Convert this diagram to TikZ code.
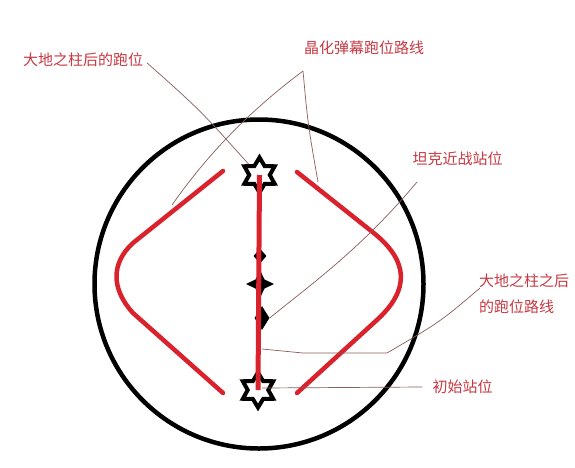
\documentclass[tikz,border=0pt]{standalone}
\usepackage{fontspec}
\usepackage{tikz}
\usetikzlibrary{shapes.geometric}
\newfontfamily\cjk{Noto Sans CJK SC}
\definecolor{route_red}{RGB}{218,34,44}
\definecolor{label_red}{RGB}{198,56,66}
\definecolor{pointer_gray}{RGB}{138,92,92}
\tikzset{
    arena/.style={draw=black,line width=4.5pt},
    route/.style={draw=route_red,line width=4.5pt,line cap=round,line join=round},
    hexstar/.style={star,star points=6,star point ratio=1.7,minimum size=35pt,inner sep=0pt,draw=black,line width=4pt,fill=white},
    tinymark/.style={fill=black,inner sep=0pt},
    pointer_line/.style={draw=pointer_gray,line width=0.7pt},
    note/.style={text=label_red,font=\cjk\fontsize{15}{26}\selectfont,inner sep=0pt},
}

\begin{document}
\begin{tikzpicture}[x=1pt,y=-1pt]
  \useasboundingbox (0,0) rectangle (575,467);
  % Draw arena
  \node[circle,arena,minimum size=329pt,inner sep=0pt] (arena) at (259,284) {};
  % Draw running routes around the pillar
  \draw[route] (223,171) -- (133,243) .. controls (111,263) and (111,289) .. (133,313) -- (223,393);
  \draw[route] (297,172) -- (375,234) .. controls (409,262) and (409,290) .. (378,319) -- (297,393);
  % Draw stand positions
  \node[hexstar] (starTop) at (259.5,175) {};
  \node[hexstar] (starBottom) at (258,390) {};
  \node[tinymark,diamond,minimum width=13pt,minimum height=15pt] (markA) at (260,256) {};
  \node[tinymark,star,star points=4,star point ratio=2.2,minimum size=28pt] (markB) at (260,284) {};
  \node[tinymark,diamond,minimum width=15pt,minimum height=24pt] (markC) at (262,318) {};
  \draw[route_red,line width=5pt] (starTop.center) -- (starBottom.center);
  % Labels
  \node[note] (lblPillar) at (83,60) {大地之柱后的跑位};
  \node[note] (lblCrystal) at (364,48) {晶化弹幕跑位路线};
  \node[note] (lblTank) at (457.5,159) {坦克近战站位};
  \node[note,align=left,anchor=west] (lblAfter) at (479,294) {大地之柱之后\\的跑位路线};
  \node[note] (lblStart) at (462.5,387) {初始站位};
  % Pointer ends
  \coordinate (crystalFork) at (303,71);
  \coordinate (hitLeft) at (172,205);
  \coordinate (hitRight) at (318,182);
  \coordinate (tankFrom) at (417,182);
  \coordinate (afterFrom) at (480,288);
  \coordinate (afterBend) at (387,353);
  \coordinate (afterMid) at (303,353);
  \coordinate (afterEnd) at (262,349);
  \coordinate (startEnd) at (262,388);
  % Draw pointer lines
  \draw[pointer_line] (lblPillar.east) ++(4,3) .. controls (200,110) .. (starTop.north west);
  \draw[pointer_line] (crystalFork) .. controls (240,118) and (200,165) .. (hitLeft);
  \draw[pointer_line] (crystalFork) .. controls (308,125) .. (hitRight);
  \draw[pointer_line] (tankFrom) .. controls (360,250) and (310,285) .. (markC.east);
  \draw[pointer_line] (afterFrom) .. controls (440,322) .. (afterBend) -- (afterMid) -- (afterEnd);
  \draw[pointer_line] (lblStart.west) ++(-10,0) -- (startEnd);
\end{tikzpicture}
\end{document}
